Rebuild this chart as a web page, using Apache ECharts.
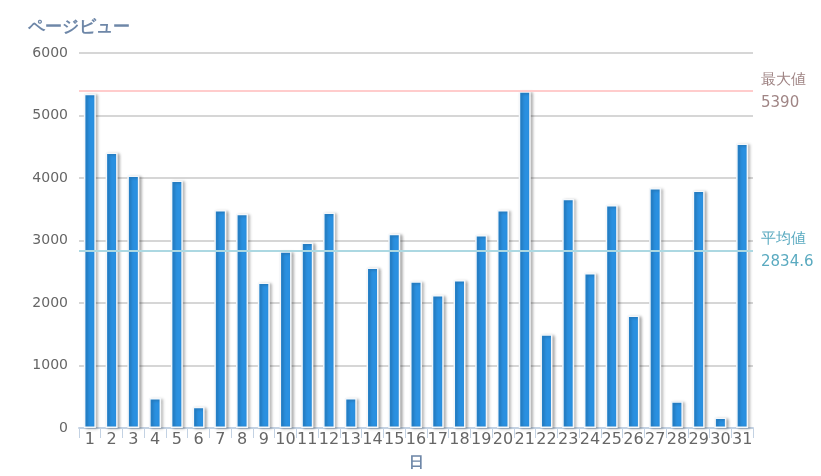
<!DOCTYPE html>
<html><head><meta charset="utf-8">
<script src="https://cdn.jsdelivr.net/npm/echarts@6/dist/echarts.min.js"></script>
<style>html,body{margin:0;padding:0;background:#fff}#c{width:821px;height:476px}</style>
</head><body><div id="c"></div>
<script>
const days = ['1','2','3','4','5','6','7','8','9','10','11','12','13','14','15','16','17','18','19','20','21','22','23','24','25','26','27','28','29','30','31'];
const pageViews = [5350,4410,4040,480,3960,340,3490,3430,2330,2830,2970,3450,480,2570,3110,2350,2130,2370,3090,3490,5390,1500,3670,2480,3570,1800,3840,430,3800,170,4553];
const yTicks = {min:0, max:6000, interval:1000};
const yName = 'ページビュー';
const xName = '日';
const maxName = '最大値';
const avgName = '平均値';

const font = 'DejaVu Sans';
const chart = echarts.init(document.getElementById('c'));
chart.setOption({
  animation:false,
  textStyle:{fontFamily:font},
  grid:{left:79,right:68,top:53,bottom:43},
  xAxis:{
    type:'category', data:days, name:xName, nameLocation:'middle', nameGap:28,
    nameTextStyle:{color:'#6e87a8',fontWeight:'bold',fontSize:15,fontFamily:font},
    axisLine:{lineStyle:{color:'#c3d2e3',width:2}},
    axisTick:{show:true,length:10,lineStyle:{color:'#c3d2e3',width:1}},
    axisLabel:{color:'#666',fontSize:16,margin:4,interval:0,fontFamily:font}
  },
  yAxis:{
    type:'value', min:yTicks.min, max:yTicks.max, interval:yTicks.interval,
    name:yName, nameGap:17,
    nameTextStyle:{color:'#6e87a8',fontWeight:'bold',fontSize:17,fontFamily:font},
    axisLine:{show:false}, axisTick:{show:false},
    axisLabel:{color:'#666',fontSize:14,margin:11,fontFamily:font,formatter:v=>String(v)},
    splitLine:{lineStyle:{color:'#c8c8c8',width:1.5}}
  },
  series:[{
    type:'bar', data:pageViews, barWidth:12,
    itemStyle:{color:'#2a90e0',borderColor:'#f4f7fa',borderWidth:1.5,
      shadowColor:'rgba(0,0,0,0.3)',shadowBlur:3,shadowOffsetX:2,shadowOffsetY:1},
    markLine:{
      symbol:'none', silent:true, precision:1,
      data:[
        {type:'max',name:maxName,lineStyle:{color:'#ffcccc',width:2,type:'solid'},
          label:{position:'end',distance:8,color:'#a08585',fontSize:15,lineHeight:23,formatter:p=>p.name+'\n'+p.value,fontFamily:font}},
        {type:'average',name:avgName,lineStyle:{color:'#acd8e2',width:2,type:'solid'},
          label:{position:'end',distance:8,color:'#5aaac0',fontSize:15,lineHeight:23,formatter:p=>p.name+'\n'+p.value,fontFamily:font}}
      ]
    }
  }]
});
</script></body></html>
